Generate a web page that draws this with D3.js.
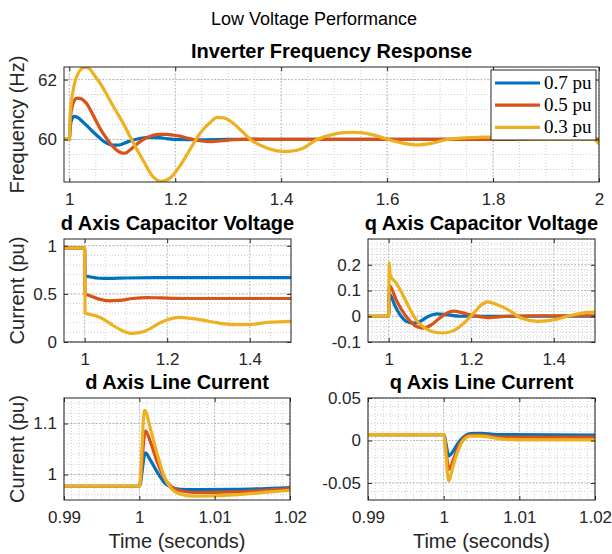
<!DOCTYPE html>
<html>
<head>
<meta charset="utf-8">
<script src="https://cdn.jsdelivr.net/npm/d3@7"></script>
<style>
  body { margin: 0; background: #fff; }
  svg { display: block; font-family: "Liberation Sans", Arial, sans-serif; }
</style>
</head>
<body>
<svg id="chart"></svg>
<script>
// series names and colours (MATLAB default order)
const seriesNames = ["0.7 pu", "0.5 pu", "0.3 pu"];
const seriesColors = ["#0072BD", "#D95319", "#EDB120"];

// ---- Inverter frequency response, [time, Hz]
const freq07 = [[0.99,60],[1.0,60],[1.002,60.45],[1.005,60.68],[1.009,60.77],[1.015,60.74],[1.026,60.58],[1.035,60.43],[1.045,60.25],[1.055,60.09],[1.064,59.95],[1.073,59.86],[1.0825,59.81],[1.091,59.81],[1.099,59.84],[1.11,59.92],[1.121,59.98],[1.135,60.04],[1.152,60.07],[1.17,60.06],[1.184,60.03],[1.2,60.0],[1.25,59.99],[1.3,60.0],[1.5,60.0],[2.0,60.0]];
const freq05 = [[0.99,60],[1.0,60],[1.002,60.7],[1.006,61.15],[1.01,61.32],[1.015,61.38],[1.022,61.36],[1.033,61.19],[1.042,60.92],[1.0515,60.58],[1.061,60.28],[1.0706,60.03],[1.078,59.85],[1.086,59.7],[1.094,59.59],[1.102,59.54],[1.108,59.56],[1.1145,59.65],[1.124,59.79],[1.133,59.92],[1.145,60.05],[1.158,60.14],[1.171,60.17],[1.184,60.17],[1.197,60.14],[1.209,60.11],[1.222,60.05],[1.234,60.0],[1.25,59.95],[1.268,59.93],[1.285,59.95],[1.31,59.99],[1.35,60.01],[1.4,60.0],[1.6,60.0],[2.0,60.0]];
const freq03 = [[0.99,60],[1.0,60],[1.002,60.9],[1.006,61.5],[1.011,61.95],[1.017,62.22],[1.024,62.37],[1.031,62.41],[1.039,62.35],[1.045,62.2],[1.06,61.83],[1.0768,61.3],[1.09,60.9],[1.102,60.53],[1.1175,60.0],[1.1397,59.29],[1.1585,58.75],[1.173,58.6],[1.19,58.71],[1.212,59.2],[1.231,59.76],[1.2466,60.2],[1.2535,60.35],[1.265,60.55],[1.279,60.74],[1.292,60.72],[1.305,60.6],[1.328,60.24],[1.342,60.0],[1.372,59.72],[1.392,59.62],[1.413,59.6],[1.439,59.69],[1.468,60.0],[1.498,60.17],[1.52,60.23],[1.539,60.24],[1.572,60.16],[1.602,60.0],[1.632,59.87],[1.657,59.82],[1.683,59.87],[1.713,60.0],[1.758,60.06],[1.787,60.08],[1.832,60.04],[1.891,60.0],[1.99,60.0],[2.0,59.85]];

// ---- d axis capacitor voltage
const dcap07 = [[0.95,0.975],[1.0,0.975],[1.001,0.69],[1.015,0.675],[1.035,0.662],[1.06,0.66],[1.1,0.665],[1.2,0.668],[1.5,0.668]];
const dcap05 = [[0.95,0.975],[1.0,0.975],[1.001,0.5],[1.01,0.485],[1.035,0.445],[1.06,0.427],[1.085,0.432],[1.117,0.452],[1.15,0.462],[1.183,0.458],[1.249,0.452],[1.35,0.452],[1.5,0.452]];
const dcap03 = [[0.95,0.975],[1.0,0.975],[1.001,0.3],[1.01,0.29],[1.035,0.26],[1.05,0.225],[1.068,0.174],[1.093,0.115],[1.114,0.09],[1.134,0.098],[1.159,0.139],[1.183,0.2],[1.208,0.24],[1.233,0.255],[1.257,0.245],[1.282,0.23],[1.323,0.198],[1.364,0.181],[1.406,0.184],[1.447,0.205],[1.5,0.215]];

// ---- q axis capacitor voltage
const qcap07 = [[0.95,0],[1.0,0],[1.0015,0.087],[1.015,0.042],[1.027,0.007],[1.043,-0.02],[1.06,-0.027],[1.076,-0.02],[1.096,-0.001],[1.117,0.009],[1.141,0.006],[1.173,0.0],[1.25,0.0],[1.5,0.0]];
const qcap05 = [[0.95,0],[1.0,0],[1.0015,0.12],[1.019,0.061],[1.035,0.016],[1.051,-0.017],[1.068,-0.04],[1.084,-0.046],[1.101,-0.036],[1.121,-0.011],[1.141,0.012],[1.157,0.02],[1.182,0.012],[1.206,0.003],[1.24,-0.005],[1.289,0.0],[1.35,0.002],[1.5,0.002]];
const qcap03 = [[0.95,0],[1.0,0],[1.0015,0.207],[1.004,0.158],[1.019,0.128],[1.035,0.081],[1.051,0.029],[1.068,-0.017],[1.088,-0.046],[1.109,-0.061],[1.133,-0.065],[1.157,-0.056],[1.182,-0.027],[1.206,0.012],[1.225,0.045],[1.24,0.056],[1.26,0.047],[1.289,0.026],[1.321,-0.007],[1.362,-0.02],[1.403,-0.013],[1.443,0.004],[1.484,0.015],[1.5,0.016]];

// ---- d axis line current
const dline07 = [[0.99,0.977],[1.0,0.977],[1.0008,1.0424],[1.00147,1.028],[1.00236,1.005],[1.00324,0.9855],[1.00413,0.9757],[1.00547,0.971],[1.008,0.9705],[1.0126,0.9708],[1.02,0.9745]];
const dline05 = [[0.99,0.977],[1.0,0.977],[1.0008,1.0855],[1.00147,1.064],[1.00236,1.025],[1.00324,0.9953],[1.00413,0.9777],[1.00547,0.968],[1.00724,0.9647],[1.0126,0.966],[1.02,0.9725]];
const dline03 = [[0.99,0.977],[1.0,0.977],[1.0007,1.126],[1.00147,1.09],[1.00236,1.041],[1.00324,0.9987],[1.00413,0.9745],[1.00547,0.9614],[1.00724,0.9575],[1.0126,0.96],[1.017,0.9653],[1.02,0.969]];

// ---- q axis line current
const qline07 = [[0.99,0.0068],[1.0,0.0068],[1.0007,-0.018],[1.0013,-0.012],[1.0019,-0.003],[1.0026,0.004],[1.0035,0.008],[1.0048,0.0085],[1.007,0.007],[1.02,0.0065]];
const qline05 = [[0.99,0.0068],[1.0,0.0068],[1.0007,-0.034],[1.0013,-0.022],[1.0019,-0.008],[1.0026,0.002],[1.0035,0.0065],[1.0048,0.0065],[1.0074,0.004],[1.02,0.004]];
const qline03 = [[0.99,0.0068],[1.0,0.0068],[1.00067,-0.0476],[1.00125,-0.0298],[1.0019,-0.0119],[1.00258,0.0],[1.00346,0.005],[1.00478,0.0052],[1.00743,0.002],[1.00964,0.0008],[1.02,0.0008]];

// tick values
const freqXTicks = [1, 1.2, 1.4, 1.6, 1.8, 2];
const freqYTicks = [60, 62];
const capXTicks = [1, 1.2, 1.4];
const dcapYTicks = [0, 0.5, 1];
const qcapYTicks = [-0.1, 0, 0.1, 0.2];
const lineXTicks = [0.99, 1, 1.01, 1.02];
const dlineYTicks = [1, 1.1];
const qlineYTicks = [-0.05, 0, 0.05];

const width = 612, height = 554;

const svg = d3.select("#chart")
  .attr("width", width)
  .attr("height", height);

const panels = [
  {id: "freq", title: "Inverter Frequency Response", x0: 64, x1: 599, y0: 67, y1: 182,
   xDom: [0.99, 2], yDom: [58.58, 62.42], xTicks: freqXTicks, yTicks: freqYTicks,
   xMinor: 0.05, yMinor: 0.5, series: [freq07, freq05, freq03], ylabel: "Frequency (Hz)", legend: true},
  {id: "dcap", title: "d Axis Capacitor Voltage", x0: 64, x1: 291, y0: 239, y1: 342,
   xDom: [0.95, 1.5], yDom: [0, 1.07], xTicks: capXTicks, yTicks: dcapYTicks,
   xMinor: 0.05, yMinor: 0.1, series: [dcap07, dcap05, dcap03], ylabel: "Current (pu)"},
  {id: "qcap", title: "q Axis Capacitor Voltage", x0: 368, x1: 595, y0: 239, y1: 342,
   xDom: [0.95, 1.5], yDom: [-0.1, 0.3], xTicks: capXTicks, yTicks: qcapYTicks,
   xMinor: 0.01, yMinor: 0.02, series: [qcap07, qcap05, qcap03]},
  {id: "dline", title: "d Axis Line Current", x0: 64, x1: 290, y0: 398, y1: 500,
   xDom: [0.99, 1.02], yDom: [0.95, 1.15], xTicks: lineXTicks, yTicks: dlineYTicks,
   xMinor: 0.001, yMinor: 0.02, series: [dline07, dline05, dline03], ylabel: "Current (pu)", xlabel: "Time (seconds)"},
  {id: "qline", title: "q Axis Line Current", x0: 368, x1: 595, y0: 398, y1: 500,
   xDom: [0.99, 1.02], yDom: [-0.07, 0.05], xTicks: lineXTicks, yTicks: qlineYTicks,
   xMinor: 0.001, yMinor: 0.01, series: [qline07, qline05, qline03], xlabel: "Time (seconds)"}
];

const fmt = d => String(+(+d).toFixed(4));

function minorValues(dom, step) {
  const out = [];
  const n0 = Math.ceil(dom[0] / step - 1e-6), n1 = Math.floor(dom[1] / step + 1e-6);
  for (let i = n0; i <= n1; i++) out.push(+(i * step).toFixed(6));
  return out;
}

// super title
svg.append("text")
  .attr("x", 314)
  .attr("y", 25)
  .attr("text-anchor", "middle")
  .attr("font-size", "18px")
  .attr("fill", "#000")
  .text("Low Voltage Performance");

panels.forEach(p => {
  const x = d3.scaleLinear().domain(p.xDom).range([p.x0, p.x1]);
  const y = d3.scaleLinear().domain(p.yDom).range([p.y1, p.y0]);
  const g = svg.append("g").attr("class", "panel " + p.id);

  g.append("rect")
    .attr("x", p.x0).attr("y", p.y0)
    .attr("width", p.x1 - p.x0).attr("height", p.y1 - p.y0)
    .attr("fill", "#fff");

  // minor grid
  const grid = g.append("g").attr("fill", "none");
  minorValues(p.xDom, p.xMinor).forEach(v => {
    grid.append("line")
      .attr("x1", x(v)).attr("x2", x(v)).attr("y1", p.y0).attr("y2", p.y1)
      .attr("stroke", "#cfcfcf").attr("stroke-dasharray", "1,2");
  });
  minorValues(p.yDom, p.yMinor).forEach(v => {
    grid.append("line")
      .attr("y1", y(v)).attr("y2", y(v)).attr("x1", p.x0).attr("x2", p.x1)
      .attr("stroke", "#cfcfcf").attr("stroke-dasharray", "1,2");
  });
  // major grid
  p.xTicks.forEach(v => {
    grid.append("line")
      .attr("x1", x(v)).attr("x2", x(v)).attr("y1", p.y0).attr("y2", p.y1)
      .attr("stroke", "#b4b4b4").attr("stroke-dasharray", "1.5,2");
  });
  p.yTicks.forEach(v => {
    grid.append("line")
      .attr("y1", y(v)).attr("y2", y(v)).attr("x1", p.x0).attr("x2", p.x1)
      .attr("stroke", "#b4b4b4").attr("stroke-dasharray", "1.5,2");
  });

  // data lines
  const clipId = "clip-" + p.id;
  g.append("clipPath").attr("id", clipId)
    .append("rect")
    .attr("x", p.x0).attr("y", p.y0)
    .attr("width", p.x1 - p.x0).attr("height", p.y1 - p.y0);

  const line = d3.line()
    .x(d => x(d[0]))
    .y(d => y(d[1]))
    .curve(d3.curveMonotoneX);

  p.series.forEach((s, i) => {
    g.append("path")
      .datum(s)
      .attr("clip-path", "url(#" + clipId + ")")
      .attr("fill", "none")
      .attr("stroke", seriesColors[i])
      .attr("stroke-width", 3.2)
      .attr("stroke-linejoin", "round")
      .attr("d", line);
  });

  // axes
  const xAxis = g.append("g")
    .attr("transform", "translate(0," + p.y1 + ")")
    .call(d3.axisBottom(x).tickValues(p.xTicks).tickFormat(fmt).tickSizeInner(-4).tickSizeOuter(0).tickPadding(11));
  const yAxis = g.append("g")
    .attr("transform", "translate(" + p.x0 + ",0)")
    .call(d3.axisLeft(y).tickValues(p.yTicks).tickFormat(fmt).tickSizeInner(-4).tickSizeOuter(0).tickPadding(7));
  g.append("g")
    .attr("transform", "translate(0," + p.y0 + ")")
    .call(d3.axisTop(x).tickValues(p.xTicks).tickFormat("").tickSizeInner(-4).tickSizeOuter(0));
  g.append("g")
    .attr("transform", "translate(" + p.x1 + ",0)")
    .call(d3.axisRight(y).tickValues(p.yTicks).tickFormat("").tickSizeInner(-4).tickSizeOuter(0));

  g.selectAll(".domain").remove();
  g.selectAll(".tick line").attr("stroke", "#262626");
  [xAxis, yAxis].forEach(a => a.selectAll("text")
    .attr("font-size", "17px")
    .attr("fill", "#262626")
    .attr("font-family", "'Liberation Sans', Arial, sans-serif"));

  g.append("rect")
    .attr("x", p.x0).attr("y", p.y0)
    .attr("width", p.x1 - p.x0).attr("height", p.y1 - p.y0)
    .attr("fill", "none")
    .attr("stroke", "#262626")
    .attr("stroke-width", 1);

  // title
  g.append("text")
    .attr("x", (p.x0 + p.x1) / 2)
    .attr("y", p.y0 - 9)
    .attr("text-anchor", "middle")
    .attr("font-size", "20px")
    .attr("font-weight", "bold")
    .attr("fill", "#000")
    .text(p.title);

  if (p.ylabel) {
    g.append("text")
      .attr("transform", "translate(24," + (p.y0 + p.y1) / 2 + ") rotate(-90)")
      .attr("text-anchor", "middle")
      .attr("font-size", "20px")
      .attr("fill", "#262626")
      .text(p.ylabel);
  }
  if (p.xlabel) {
    g.append("text")
      .attr("x", (p.x0 + p.x1) / 2)
      .attr("y", 548)
      .attr("text-anchor", "middle")
      .attr("font-size", "20px")
      .attr("fill", "#262626")
      .text(p.xlabel);
  }

  if (p.legend) {
    const lg = g.append("g").attr("class", "legend");
    lg.append("rect")
      .attr("x", 491).attr("y", 70)
      .attr("width", 105).attr("height", 70)
      .attr("fill", "#fff")
      .attr("stroke", "#262626")
      .attr("stroke-width", 1);
    seriesNames.forEach((name, i) => {
      const cy = 83 + i * 22.2;
      lg.append("line")
        .attr("x1", 495).attr("x2", 540)
        .attr("y1", cy).attr("y2", cy)
        .attr("stroke", seriesColors[i])
        .attr("stroke-width", 3.2);
      lg.append("text")
        .attr("x", 544)
        .attr("y", cy + 6)
        .style("font-family", "'Liberation Serif', 'DejaVu Serif', serif")
        .attr("font-size", "19px")
        .attr("fill", "#000")
        .text(name);
    });
  }
});
</script>
</body>
</html>
